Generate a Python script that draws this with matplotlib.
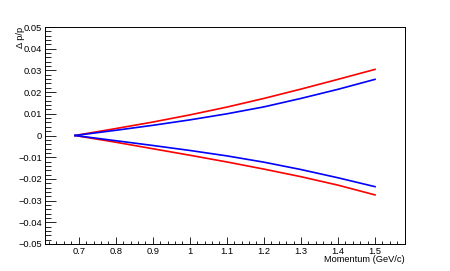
import numpy as np
import matplotlib.pyplot as plt
from matplotlib.ticker import MultipleLocator, FuncFormatter

plt.rcParams['font.family'] = ['Liberation Sans', 'DejaVu Sans']

# momentum points (GeV/c)
mom = [0.69, 0.8, 0.9, 1.0, 1.1, 1.2, 1.3, 1.4, 1.5]
# resolution bands dp/p
red_up = [0.0, 0.0032, 0.0062, 0.0095, 0.0131, 0.0171, 0.0214, 0.0259, 0.0305]
blue_up = [0.0, 0.0024, 0.0047, 0.0072, 0.0100, 0.0132, 0.0171, 0.0213, 0.0259]
blue_dn = [0.0, -0.0024, -0.0046, -0.0069, -0.0094, -0.0123, -0.0157, -0.0195, -0.0236]
red_dn = [0.0, -0.0031, -0.0061, -0.0091, -0.0122, -0.0155, -0.0190, -0.0229, -0.0274]

fig = plt.figure(figsize=(4.5, 2.71), dpi=100)
ax = fig.add_axes([0.1, 0.1, 0.8, 0.8])

ax.plot(mom, red_up, color='#ff0000', lw=1.2)
ax.plot(mom, red_dn, color='#ff0000', lw=1.2)
ax.plot(mom, blue_up, color='#0000ff', lw=1.2)
ax.plot(mom, blue_dn, color='#0000ff', lw=1.2)

ax.set_xlim(0.609, 1.581)
ax.set_ylim(-0.05, 0.05)

ax.xaxis.set_major_locator(MultipleLocator(0.1))
ax.xaxis.set_minor_locator(MultipleLocator(0.02))
ax.yaxis.set_major_locator(MultipleLocator(0.01))
ax.yaxis.set_minor_locator(MultipleLocator(0.002))

def fmt(v, pos):
    s = ('%.2f' % v).rstrip('0').rstrip('.')
    if s in ('-0', ''):
        s = '0'
    return s.replace('-', '\u2212')

ax.xaxis.set_major_formatter(FuncFormatter(fmt))
ax.yaxis.set_major_formatter(FuncFormatter(fmt))

ax.tick_params(which='both', direction='in', top=False, right=False,
               labelsize=6.7, width=0.6, colors='black')
ax.tick_params(axis='y', which='major', length=8, pad=2)
ax.tick_params(axis='y', which='minor', length=4)
ax.tick_params(axis='x', which='major', length=5, pad=2.5)
ax.tick_params(axis='x', which='minor', length=2.5)
for s in ax.spines.values():
    s.set_linewidth(0.7)

fig.text(0.9, 1 - 255/271, 'Momentum (GeV/c)', ha='right', va='top', fontsize=6.7)
fig.text(20.7/450, 1 - 27/271, '\u0394 p/p', rotation=90, ha='center', va='top', fontsize=6.7)

fig.savefig('out.png', dpi=100)
